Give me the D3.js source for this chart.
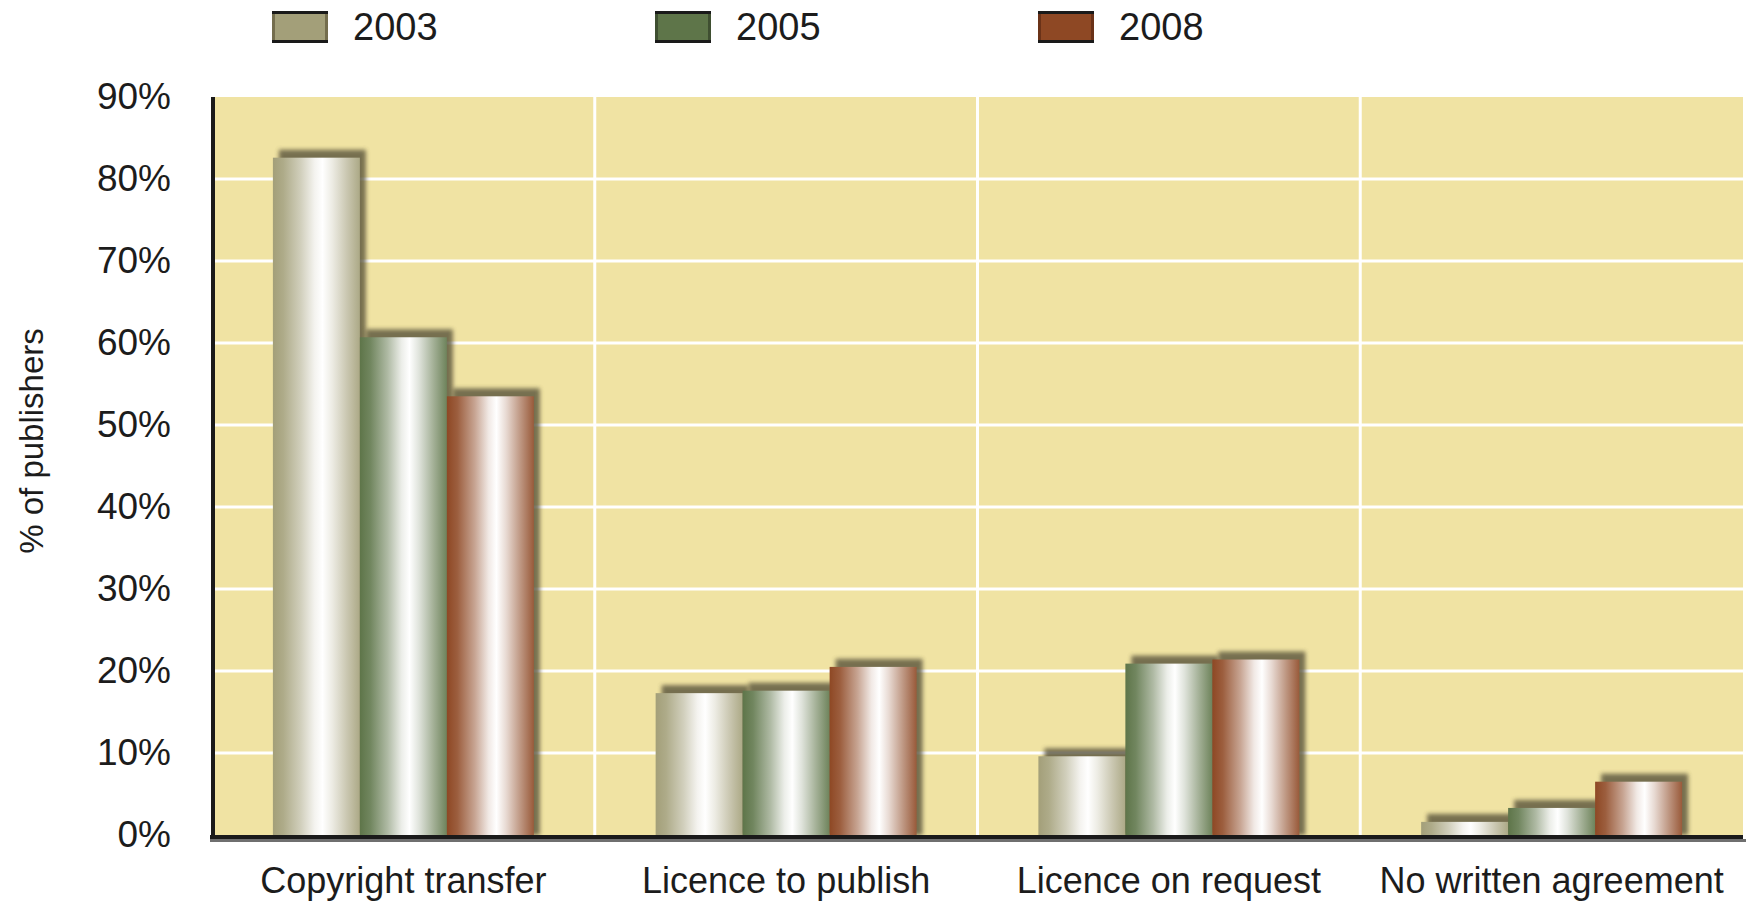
<!DOCTYPE html>
<html lang="en">
<head>
<meta charset="UTF-8">
<title>Copyright agreements by year</title>
<style>
  body { margin: 0; background: #fff; }
  svg { display: block; font-family: "Liberation Sans", Arial, sans-serif; }
  text { fill: #1c1c1c; }
  .grid line { stroke: #fff; stroke-width: 3; }
</style>
</head>
<body>
<svg width="1753" height="904"></svg>
<script src="https://d3js.org/d3.v7.min.js"></script>
<script>
// data
const categories = ["Copyright transfer", "Licence to publish", "Licence on request", "No written agreement"];
const years = ["2003", "2005", "2008"];
const values2003 = [82.6, 17.3, 9.6, 1.6];
const values2005 = [60.7, 17.6, 20.9, 3.3];
const values2008 = [53.5, 20.5, 21.4, 6.5];
const yTicks = [0, 10, 20, 30, 40, 50, 60, 70, 80, 90];
const yTitle = "% of publishers";

const seriesValues = { "2003": values2003, "2005": values2005, "2008": values2008 };
const baseColor = { "2003": "#a39f79", "2005": "#5e7549", "2008": "#8e4824" };
const edgeColor = { "2003": "#746d4d", "2005": "#3f4f31", "2008": "#6a3218" };

const plotL = 212, plotR = 1743, plotT = 97, plotB = 835;

const svg = d3.select("svg");

const x0 = d3.scaleBand().domain(categories).range([plotL, plotR]);
const x1 = d3.scaleBand().domain(years).range([0, x0.bandwidth()]).paddingOuter(0.7);
const y = d3.scaleLinear().domain([0, 90]).range([plotB, plotT]);

// gradients for the cylinder look
const defs = svg.append("defs");
years.forEach(yr => {
    const mix = d3.interpolateRgb(baseColor[yr], "#ffffff");
    const g = defs.append("linearGradient").attr("id", "grad" + yr)
        .attr("x1", 0).attr("x2", 1).attr("y1", 0).attr("y2", 0);
    [[0, 0], [0.12, 0.12], [0.32, 0.5], [0.48, 0.88], [0.57, 1], [0.68, 0.8], [0.85, 0.42], [1, 0.1]]
        .forEach(([o, m]) => g.append("stop").attr("offset", o).attr("stop-color", mix(m)));
});
const blur = defs.append("filter").attr("id", "shadowBlur")
    .attr("x", "-20%").attr("y", "-20%").attr("width", "140%").attr("height", "140%");
blur.append("feGaussianBlur").attr("stdDeviation", 2.2);

// plot background
svg.append("rect")
    .attr("x", plotL).attr("y", plotT)
    .attr("width", plotR - plotL).attr("height", plotB - plotT)
    .attr("fill", "#f0e3a3");

// grid
const grid = svg.append("g").attr("class", "grid");
grid.selectAll(".h").data(yTicks.filter(t => t > 0 && t < 90)).enter()
    .append("line").attr("class", "h")
    .attr("x1", plotL).attr("x2", plotR)
    .attr("y1", d => y(d)).attr("y2", d => y(d));
grid.selectAll(".v").data(categories.slice(1)).enter()
    .append("line").attr("class", "v")
    .attr("x1", d => x0(d)).attr("x2", d => x0(d))
    .attr("y1", plotT).attr("y2", plotB);

// bars
const groups = svg.selectAll(".group").data(categories).enter()
    .append("g").attr("class", "group")
    .attr("transform", d => `translate(${x0(d)},0)`);

groups.each(function(cat, ci) {
    const g = d3.select(this);
    years.forEach(yr => {
        const v = seriesValues[yr][ci];
        g.append("rect")
            .attr("x", x1(yr) + 6).attr("y", y(v) - 8)
            .attr("width", x1.bandwidth()).attr("height", plotB - y(v) + 8)
            .attr("fill", "#58523b").attr("opacity", 0.8)
            .attr("filter", "url(#shadowBlur)");
        g.append("rect")
            .attr("x", x1(yr)).attr("y", y(v))
            .attr("width", x1.bandwidth()).attr("height", plotB - y(v))
            .attr("fill", `url(#grad${yr})`);
    });
});

// axis lines
svg.append("rect").attr("x", plotL - 2).attr("y", plotB + 4).attr("width", plotR - plotL + 5).attr("height", 3).attr("fill", "#6f6f6f");
svg.append("rect").attr("x", plotL - 2).attr("y", plotB).attr("width", plotR - plotL + 2).attr("height", 4).attr("fill", "#1a1a1a");
svg.append("rect").attr("x", plotL - 1).attr("y", plotT).attr("width", 4).attr("height", plotB - plotT + 2).attr("fill", "#1a1a1a");

// y tick labels
svg.selectAll(".ytick").data(yTicks).enter()
    .append("text").attr("class", "ytick")
    .attr("x", 171).attr("y", d => y(d) + 12)
    .attr("text-anchor", "end")
    .style("font-size", "37px")
    .text(d => d + "%");

// x labels
svg.selectAll(".xlab").data(categories).enter()
    .append("text").attr("class", "xlab")
    .attr("x", d => x0(d) + x0.bandwidth() / 2).attr("y", 893)
    .attr("text-anchor", "middle")
    .style("font-size", "36px")
    .text(d => d);

// y title
svg.append("text")
    .attr("transform", "translate(43,441) rotate(-90)")
    .attr("text-anchor", "middle")
    .style("font-size", "33px")
    .text(yTitle);

// legend
const lx = d3.scaleBand().domain(years).range([272, 1421]);
const legend = svg.selectAll(".legend").data(years).enter()
    .append("g").attr("class", "legend")
    .attr("transform", d => `translate(${lx(d)},11)`);
legend.append("rect").attr("width", 56).attr("height", 32).attr("fill", d => edgeColor[d]);
legend.append("rect").attr("x", 3).attr("width", 50).attr("height", 32).attr("fill", d => baseColor[d]);
legend.append("rect").attr("width", 56).attr("height", 3).attr("fill", "#1a1a1a");
legend.append("rect").attr("y", 29).attr("width", 56).attr("height", 3).attr("fill", "#1a1a1a");
legend.append("text").attr("x", 81).attr("y", 29)
    .style("font-size", "38px")
    .text(d => d);
</script>
</body>
</html>
